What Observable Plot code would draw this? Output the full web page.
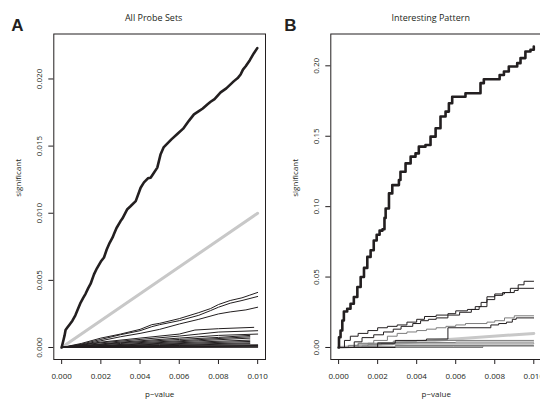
<!DOCTYPE html>
<html><head><meta charset="utf-8">
<script src="https://cdn.jsdelivr.net/npm/d3@7"></script>
<script src="https://cdn.jsdelivr.net/npm/@observablehq/plot@0.6"></script>
<style>
html,body{margin:0;padding:0;background:#fff;overflow:hidden;width:540px;height:404px;}
#root{position:relative;width:540px;height:404px;overflow:hidden;}
#root > svg{position:absolute;top:0;}
</style></head><body><div id="root"></div>
<script>
// ---------- tick values and labels ----------
const xTicks = [0, 0.002, 0.004, 0.006, 0.008, 0.010];
const xTickLabels = ["0.000", "0.002", "0.004", "0.006", "0.008", "0.010"];
const yTicksA = [0, 0.005, 0.010, 0.015, 0.020];
const yTickLabelsA = ["0.000", "0.005", "0.010", "0.015", "0.020"];
const yTicksB = [0, 0.05, 0.10, 0.15, 0.20];
const yTickLabelsB = ["0.00", "0.05", "0.10", "0.15", "0.20"];
const panelLetters = ["A", "B"];
const panelTitles = ["All Probe Sets", "Interesting Pattern"];
const xLabel = "p\u2212value";
const yLabel = "significant";

// ---------- reference (expected) line: [p-value, significant] ----------
const expectedLine = [[0, 0], [0.010, 0.010]];

// ---------- Panel A: all probe sets ----------
const aObserved = [[0,0],[0.00005,0.0003],[0.0001,0.0006],[0.00015,0.0009],[0.0002,0.0013],[0.0003,0.0015],[0.0004,0.0017],[0.00055,0.002],[0.0007,0.0024],[0.0008,0.00275],[0.00097,0.00335],[0.0011,0.0037],[0.00122,0.004],[0.00135,0.0044],[0.00148,0.00475],[0.00165,0.00545],[0.0018,0.0059],[0.002,0.0064],[0.00216,0.0067],[0.0023,0.0073],[0.00245,0.0078],[0.0026,0.0082],[0.00267,0.00845],[0.0028,0.0089],[0.003,0.0094],[0.0031,0.0096],[0.00335,0.0103],[0.0035,0.0105],[0.00378,0.0109],[0.00403,0.0119],[0.0042,0.0123],[0.0044,0.0126],[0.00454,0.01265],[0.0047,0.013],[0.00488,0.0134],[0.00505,0.0144],[0.0052,0.0149],[0.0054,0.0152],[0.0056,0.0155],[0.0059,0.0159],[0.0062,0.0163],[0.0065,0.0169],[0.00675,0.01736],[0.007,0.0176],[0.0072,0.0178],[0.00743,0.0181],[0.0076,0.0183],[0.0078,0.0185],[0.00811,0.019],[0.0084,0.0193],[0.00879,0.01984],[0.009,0.0201],[0.00913,0.02033],[0.00925,0.0207],[0.00939,0.02095],[0.0096,0.0214],[0.0098,0.0219],[0.00998,0.0223]];
const aPerm1 = [[0,0],[0.001,0.0003],[0.002,0.0007],[0.003,0.001],[0.004,0.00135],[0.0046,0.0017],[0.005,0.0018],[0.006,0.00215],[0.007,0.0026],[0.0076,0.0029],[0.008,0.0032],[0.0086,0.0035],[0.0092,0.0037],[0.0096,0.0039],[0.01,0.0041]];
const aPerm2 = [[0,0],[0.001,0.00025],[0.002,0.0006],[0.003,0.00095],[0.004,0.00125],[0.0046,0.00155],[0.005,0.0017],[0.006,0.002],[0.007,0.0024],[0.0076,0.00275],[0.008,0.003],[0.0086,0.0033],[0.0092,0.0035],[0.01,0.0038]];
const aPerm3 = [[0,0],[0.001,0.0002],[0.002,0.0005],[0.003,0.0008],[0.004,0.00105],[0.005,0.00135],[0.006,0.00175],[0.007,0.0021],[0.008,0.0025],[0.0086,0.00265],[0.0094,0.0028],[0.01,0.003]];
const aPerm4 = [[0,0],[0.002,0.0004],[0.004,0.0007],[0.006,0.001],[0.0068,0.0013],[0.008,0.0014],[0.0098,0.0015]];
const aPerm5 = [[0,0],[0.002,0.00035],[0.004,0.0006],[0.006,0.00085],[0.007,0.001],[0.008,0.00115],[0.01,0.00125]];
const aPerm6 = [[0,0],[0.003,0.0004],[0.006,0.0007],[0.008,0.0009],[0.01,0.001]];
const aPerm7 = [[0,0],[0.003,0.00035],[0.006,0.0006],[0.008,0.00075],[0.0096,0.0009]];
const aPerm8 = [[0,0],[0.003,0.0003],[0.006,0.0005],[0.0096,0.0008]];
const aPerm9 = [[0,0],[0.004,0.0003],[0.007,0.0005],[0.0096,0.0007]];
const aPerm10 = [[0,0],[0.004,0.00025],[0.0096,0.00055]];
const aPerm11 = [[0,0],[0.005,0.00025],[0.0096,0.00045]];
const aPerm12 = [[0,0],[0.005,0.0002],[0.0096,0.00035]];
const aPerm13 = [[0,0],[0.005,0.00015],[0.0096,0.00028]];
const aPerm14 = [[0,0],[0.006,0.00015],[0.01,0.0002]];
const aPerm15 = [[0,0],[0.006,0.0001],[0.01,0.00015]];
const aPerm16 = [[0,0],[0.01,0.0001]];
const aPerm17 = [[0,0],[0.01,0.00005]];
const aPerm18 = [[0,0],[0.01,0.00002]];

// ---------- Panel B: interesting pattern ----------
const bObserved = [[0,0],[0.00002,0.0073],[0.0001,0.0121],[0.00019,0.0192],[0.00027,0.0255],[0.00044,0.0275],[0.00061,0.031],[0.00078,0.0358],[0.00096,0.0429],[0.00113,0.05],[0.0013,0.0565],[0.00147,0.0643],[0.00164,0.069],[0.0018,0.076],[0.00195,0.08],[0.0021,0.083],[0.00225,0.084],[0.00235,0.092],[0.00241,0.0987],[0.00258,0.1094],[0.00275,0.1153],[0.00309,0.1189],[0.00317,0.1248],[0.00343,0.1307],[0.00369,0.1355],[0.00394,0.1378],[0.00411,0.1426],[0.00445,0.1438],[0.00471,0.1497],[0.00497,0.1557],[0.00522,0.164],[0.00548,0.1675],[0.00565,0.1734],[0.00582,0.178],[0.0065,0.1805],[0.00727,0.1877],[0.00744,0.1905],[0.00825,0.1935],[0.00847,0.196],[0.00872,0.1995],[0.00915,0.2019],[0.00932,0.2055],[0.00957,0.2102],[0.00983,0.2114],[0.01,0.2137]];
const bPerm1 = [[0,0],[0.0003,0.005],[0.0006,0.008],[0.001,0.01],[0.0015,0.012],[0.002,0.014],[0.0025,0.015],[0.003,0.016],[0.0035,0.018],[0.004,0.02],[0.0044,0.022],[0.005,0.023],[0.0056,0.024],[0.006,0.026],[0.0066,0.027],[0.007,0.029],[0.0073,0.032],[0.0076,0.036],[0.008,0.038],[0.0085,0.039],[0.009,0.0405],[0.0092,0.0445],[0.0095,0.047],[0.01,0.047]];
const bPerm2 = [[0,0],[0.0008,0.004],[0.0012,0.007],[0.0018,0.009],[0.0023,0.011],[0.0028,0.013],[0.0032,0.015],[0.0038,0.017],[0.0042,0.019],[0.0046,0.02],[0.005,0.021],[0.0056,0.023],[0.0062,0.025],[0.0068,0.027],[0.0072,0.029],[0.0076,0.034],[0.008,0.037],[0.0084,0.039],[0.0088,0.042],[0.01,0.042]];
const bPerm3 = [[0,0],[0.001,0.003],[0.0018,0.005],[0.0025,0.008],[0.003,0.01],[0.0035,0.011],[0.004,0.012],[0.0045,0.013],[0.005,0.014],[0.0055,0.015],[0.006,0.016],[0.0065,0.017],[0.0076,0.018],[0.008,0.019],[0.0085,0.021],[0.009,0.0225],[0.01,0.0225]];
const bPerm4 = [[0,0],[0.002,0.003],[0.0029,0.005],[0.0045,0.006],[0.0056,0.014],[0.0075,0.014],[0.0078,0.016],[0.0082,0.017],[0.0086,0.018],[0.0089,0.02],[0.0091,0.021],[0.01,0.021]];
const bPerm5 = [[0,0],[0.0005,0.0015],[0.001,0.0025],[0.0015,0.003],[0.002,0.0035],[0.0028,0.0045],[0.004,0.005],[0.01,0.005]];
const bPerm6 = [[0,0],[0.0008,0.001],[0.0015,0.002],[0.0022,0.003],[0.0028,0.0035],[0.006,0.0038],[0.01,0.0038]];
const bPerm7 = [[0,0],[0.0012,0.001],[0.002,0.002],[0.0028,0.0025],[0.01,0.0026]];
const bPerm8 = [[0,0],[0.0015,0.0005],[0.0029,0.0014],[0.01,0.0014]];
const bPerm9 = [[0,0],[0.0029,0.0005],[0.0059,0.0005],[0.0074,0.001],[0.01,0.001]];
const bPerm10 = [[0,0],[0.0029,0]];
const bPerm11 = [[0,0],[0.0074,0]];

// ---------- styling ----------
const INK = "#231f20";
const GREY = "#7d7d7d";
const LIGHT = "#c8c8c8";
const FONT = "'Open Sans', Lato, sans-serif";

function panel(cfg) {
  const X = d => d[0], Y = d => d[1];
  const marks = [Plot.line(expectedLine, {x: X, y: Y, stroke: LIGHT, strokeWidth: 3})];
  for (const s of cfg.thin) {
    marks.push(Plot.line(s.pts, {x: X, y: Y, stroke: s.color, strokeWidth: 1, curve: cfg.curve}));
  }
  marks.push(Plot.line(cfg.observed, {x: X, y: Y, stroke: INK, strokeWidth: 2.6, curve: cfg.curve, strokeLinejoin: "round"}));
  marks.push(Plot.frame({stroke: INK, strokeWidth: 1}));
  marks.push(Plot.axisX({ticks: xTicks, tickFormat: d => xTickLabels[xTicks.indexOf(d)], tickSize: 5, tickPadding: 9, label: null, fontSize: 8, stroke: INK, fill: INK}));
  marks.push(Plot.axisY({ticks: cfg.yTicks, tickFormat: d => cfg.yLabels[cfg.yTicks.indexOf(d)], tickSize: 5, tickPadding: 7, tickRotate: -90, label: null, fontSize: 8, stroke: INK, fill: INK}));
  marks.push(Plot.text([yLabel], {frameAnchor: "left", dx: -35, rotate: -90, text: d => d, fontSize: 8, fill: INK}));
  marks.push(Plot.text([xLabel], {frameAnchor: "bottom", dy: 37, text: d => d, fontSize: 8, fill: INK}));
  marks.push(Plot.text([cfg.title], {frameAnchor: "top", dx: cfg.titleDx, dy: -19, text: d => d, fontSize: 9, fill: INK}));
  marks.push(Plot.text([cfg.letter], {frameAnchor: "top-left", dx: cfg.letterDx, dy: -15, text: d => d, fontSize: 17, fontWeight: "bold", fontFamily: "'Liberation Sans', Arial, sans-serif", fill: INK, textAnchor: "middle"}));
  const svg = Plot.plot({
    width: cfg.width, height: 404,
    marginLeft: cfg.ml, marginRight: cfg.mr, marginTop: 33.5, marginBottom: 45,
    x: {domain: cfg.xDomain, axis: null},
    y: {domain: cfg.yDomain, axis: null},
    style: {fontFamily: FONT, fontSize: "8px", background: "transparent", color: INK},
    marks
  });
  svg.style.left = cfg.left + "px";
  return svg;
}

const root = document.getElementById("root");
root.appendChild(panel({
  left: 0, width: 270, ml: 53.3, mr: 5,
  xDomain: [-0.0004, 0.0104], yDomain: [-0.000894, 0.02335],
  yTicks: yTicksA, yLabels: yTickLabelsA,
  title: panelTitles[0], titleDx: -6, letter: panelLetters[0], letterDx: -36.5,
  curve: "linear", observed: aObserved,
  thin: [aPerm1, aPerm2, aPerm3, aPerm4, aPerm5, aPerm6, aPerm7, aPerm8, aPerm9, aPerm10, aPerm11, aPerm12, aPerm13, aPerm14, aPerm15, aPerm16, aPerm17, aPerm18].map(pts => ({pts, color: INK}))
}));
root.appendChild(panel({
  left: 270, width: 276, ml: 60.3, mr: 4.9,
  xDomain: [-0.0004, 0.0104], yDomain: [-0.00854, 0.2226],
  yTicks: yTicksB, yLabels: yTickLabelsB,
  title: panelTitles[1], titleDx: -5.5, letter: panelLetters[1], letterDx: -40.5,
  curve: "step-after", observed: bObserved,
  thin: [
    {pts: bPerm11, color: GREY}, {pts: bPerm9, color: GREY}, {pts: bPerm8, color: GREY},
    {pts: bPerm7, color: GREY}, {pts: bPerm6, color: GREY}, {pts: bPerm5, color: GREY},
    {pts: bPerm10, color: INK}, {pts: bPerm3, color: GREY}, {pts: bPerm4, color: INK},
    {pts: bPerm2, color: INK}, {pts: bPerm1, color: INK}
  ]
}));
</script>
</body></html>
